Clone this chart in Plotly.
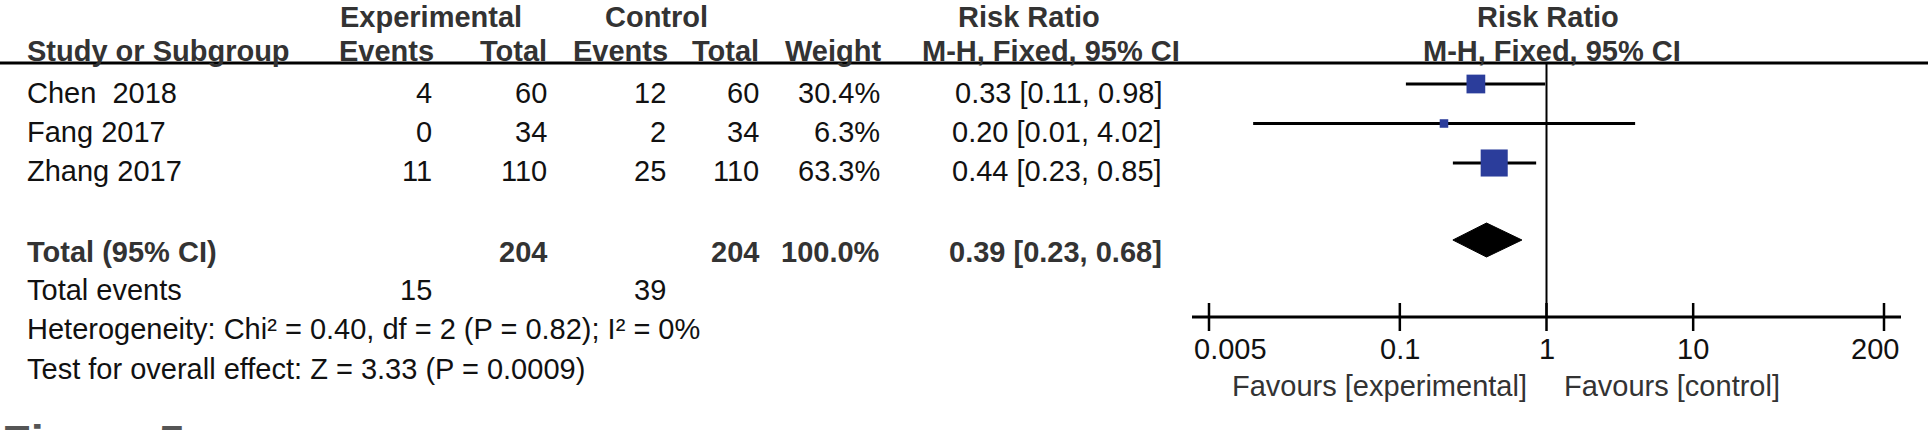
import math
import plotly.graph_objects as go

# ---- data ----
studies = ["Chen \u00a02018", "Fang 2017", "Zhang 2017"]
exp_events = [4, 0, 11]
exp_total = [60, 34, 110]
ctrl_events = [12, 2, 25]
ctrl_total = [60, 34, 110]
weights = [30.4, 6.3, 63.3]
rr = [0.33, 0.20, 0.44]
ci_low = [0.11, 0.01, 0.23]
ci_high = [0.98, 4.02, 0.85]

total_exp = 204
total_ctrl = 204
total_weight = 100.0
total_rr = 0.39
total_low = 0.23
total_high = 0.68
total_events_exp = 15
total_events_ctrl = 39

heterogeneity = "Heterogeneity: Chi² = 0.40, df = 2 (P = 0.82); I² = 0%"
overall = "Test for overall effect: Z = 3.33 (P = 0.0009)"

tick_vals = [0.005, 0.1, 1, 10, 200]
tick_text = ["0.005", "0.1", "1", "10", "200"]

# ---- layout bits (pixels) ----
W, H = 1928, 430
FONT = "Liberation Sans, Arial, sans-serif"
FS = 29
DARK = "#111111"
BOLD = "#333333"
BLUE = "#2B3D9B"

row_text_y0, row_step = 93, 39
row_mark_y0, mark_step = 84, 39.5
header_line_y = 63
axis_y = 317

fig = go.Figure()
annots = []


def txt(s, x, y, anchor="left", bold=False, color=None, size=FS):
    annots.append(dict(
        text="<b>%s</b>" % s if bold else s, x=x / W, y=y,
        xref="paper", yref="y", xanchor=anchor, yanchor="middle",
        showarrow=False, font=dict(family=FONT, size=size,
                                   color=color or (BOLD if bold else DARK))))


def top_txt(s, x):
    # first header line sits right at the top edge
    annots.append(dict(
        text="<b>%s</b>" % s, x=x / W, y=0, xref="paper", yref="y",
        xanchor="center", yanchor="top", borderpad=0, showarrow=False,
        font=dict(family=FONT, size=FS, color=BOLD)))


# headers
top_txt("Experimental", 431)
top_txt("Control", 656)
top_txt("Risk Ratio", 1029)
top_txt("Risk Ratio", 1548)
txt("Study or Subgroup", 25, 51, bold=True)
txt("Events", 436, 51, "right", True)
txt("Total", 549, 51, "right", True)
txt("Events", 670, 51, "right", True)
txt("Total", 761, 51, "right", True)
txt("Weight", 883, 51, "right", True)
txt("M-H, Fixed, 95% CI", 1051, 51, "center", True)
txt("M-H, Fixed, 95% CI", 1552, 51, "center", True)

# study rows
for i, name in enumerate(studies):
    y = row_text_y0 + i * row_step
    txt(name, 25, y)
    txt(str(exp_events[i]), 434, y, "right")
    txt(str(exp_total[i]), 549, y, "right")
    txt(str(ctrl_events[i]), 668, y, "right")
    txt(str(ctrl_total[i]), 761, y, "right")
    txt("%.1f%%" % weights[i], 882, y, "right")
    txt("%.2f [%.2f, %.2f]" % (rr[i], ci_low[i], ci_high[i]), 1164, y, "right")

# totals
txt("Total (95% CI)", 25, 252, bold=True)
txt(str(total_exp), 549, 252, "right", True)
txt(str(total_ctrl), 761, 252, "right", True)
txt("%.1f%%" % total_weight, 882, 252, "right", True)
txt("%.2f [%.2f, %.2f]" % (total_rr, total_low, total_high), 1164, 252, "right", True)
txt("Total events", 25, 290)
txt(str(total_events_exp), 434, 290, "right")
txt(str(total_events_ctrl), 668, 290, "right")
txt(heterogeneity, 25, 329)
txt(overall, 25, 369)

# figure caption, mostly cut off by the bottom edge (as in the source image)
annots.append(dict(text="<b>Figure 5</b>", x=0, y=413, xref="paper", yref="y",
                   xanchor="left", yanchor="top", showarrow=False,
                   font=dict(family=FONT, size=47, color="#555555")))

# CI lines
cx, cy = [], []
for i in range(len(studies)):
    y = row_mark_y0 + i * mark_step
    cx += [ci_low[i], ci_high[i], None]
    cy += [y, y, None]
fig.add_trace(go.Scatter(x=cx, y=cy, mode="lines",
                         line=dict(color="black", width=3), hoverinfo="skip"))

# weighted squares
fig.add_trace(go.Scatter(
    x=rr, y=[row_mark_y0 + i * mark_step for i in range(len(rr))],
    mode="markers",
    marker=dict(symbol="square", color=BLUE, opacity=1,
                size=[3.4 * math.sqrt(w) for w in weights], line=dict(width=0))))

# pooled diamond
dy = 17
fig.add_trace(go.Scatter(
    x=[total_low, total_rr, total_high, total_rr, total_low],
    y=[240, 240 - dy, 240, 240 + dy, 240],
    mode="lines", fill="toself", fillcolor="black",
    line=dict(color="black", width=1)))

# axis ticks
fig.add_trace(go.Scatter(
    x=tick_vals, y=[axis_y] * len(tick_vals), mode="markers",
    marker=dict(symbol="line-ns", size=20, opacity=1,
                line=dict(color="black", width=2.5))))

# tick labels
for i, (v, t) in enumerate(zip(tick_vals, tick_text)):
    if i == 0:
        a = dict(x=0, xref="x domain", xanchor="left")
    elif i == len(tick_vals) - 1:
        a = dict(x=1, xref="x domain", xanchor="right")
    else:
        a = dict(x=math.log10(v), xref="x", xanchor="center")
    a.update(text=t, y=349, yref="y", yanchor="middle", showarrow=False,
             font=dict(family=FONT, size=FS, color=DARK))
    annots.append(a)

annots.append(dict(text="Favours [experimental]", x=0, xref="x", xshift=-18,
                   xanchor="right", y=386, yref="y", yanchor="middle",
                   showarrow=False, font=dict(family=FONT, size=FS, color=BOLD)))
annots.append(dict(text="Favours [control]", x=0, xref="x", xshift=15,
                   xanchor="left", y=386, yref="y", yanchor="middle",
                   showarrow=False, font=dict(family=FONT, size=FS, color=BOLD)))

shapes = [
    dict(type="line", xref="paper", yref="y", x0=0, x1=1,
         y0=header_line_y, y1=header_line_y, line=dict(color="black", width=3)),
    dict(type="line", xref="x", yref="y", x0=1, x1=1,
         y0=header_line_y, y1=axis_y, line=dict(color="black", width=2)),
    dict(type="line", xref="x domain", yref="y", x0=0, x1=1,
         y0=axis_y, y1=axis_y, line=dict(color="black", width=3)),
]

# log axis: 0.005 -> 200 spans pixels 1209 -> 1884, axis line runs a bit past
decade = (1884 - 1209) / (math.log10(200) - math.log10(0.005))
pad = 17 / decade
fig.update_layout(
    width=W, height=H, margin=dict(l=0, r=0, t=0, b=0),
    paper_bgcolor="white", plot_bgcolor="white", showlegend=False,
    xaxis=dict(type="log", domain=[1192 / W, 1901 / W],
               range=[math.log10(0.005) - pad, math.log10(200) + pad],
               visible=False),
    yaxis=dict(range=[H, 0], domain=[0, 1], visible=False),
    annotations=annots, shapes=shapes,
)

fig.write_html("out.html", config={"displayModeBar": False},
               post_script="document.body.style.margin='0';")
